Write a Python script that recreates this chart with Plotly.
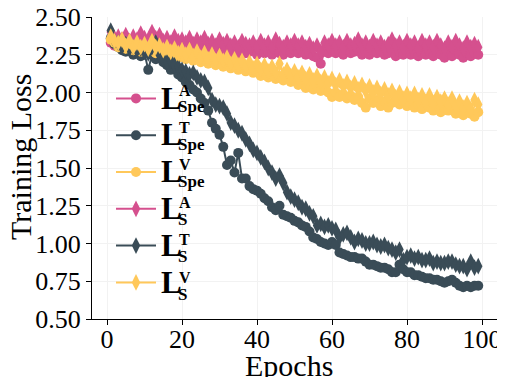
import plotly.graph_objects as go

epochs = list(range(1, 100))

spe_A = [2.33, 2.31, 2.33, 2.30, 2.32, 2.29, 2.31, 2.30, 2.33, 2.31,
         2.30, 2.34, 2.31, 2.32, 2.29, 2.30, 2.28, 2.31, 2.29, 2.30,
         2.28, 2.30, 2.27, 2.29, 2.28, 2.30, 2.27, 2.28, 2.26, 2.29,
         2.27, 2.28, 2.26, 2.28, 2.25, 2.28, 2.26, 2.27, 2.28, 2.25,
         2.28, 2.26, 2.27, 2.25, 2.28, 2.26, 2.25, 2.27, 2.26, 2.28,
         2.26, 2.27, 2.25, 2.26, 2.24, 2.23, 2.19, 2.27, 2.26, 2.28,
         2.26, 2.27, 2.25, 2.28, 2.26, 2.27, 2.28, 2.25, 2.27, 2.25,
         2.28, 2.26, 2.27, 2.25, 2.26, 2.28, 2.24, 2.27, 2.25, 2.27,
         2.25, 2.27, 2.24, 2.28, 2.25, 2.27, 2.24, 2.27, 2.25, 2.23,
         2.27, 2.24, 2.28, 2.25, 2.23, 2.26, 2.24, 2.26, 2.25]

spe_T = [2.36, 2.32, 2.30, 2.28, 2.27, 2.29, 2.25, 2.27, 2.24, 2.26,
         2.15, 2.25, 2.22, 2.24, 2.20, 2.18, 2.15, 2.16, 2.12, 2.10,
         2.07, 2.05, 2.02, 2.00, 1.96, 1.93, 1.88, 1.80, 1.76, 1.72,
         1.64, 1.52, 1.55, 1.47, 1.60, 1.43, 1.43, 1.38, 1.36, 1.35,
         1.33, 1.30, 1.28, 1.24, 1.22, 1.25, 1.19, 1.18, 1.17, 1.15,
         1.14, 1.12, 1.11, 1.08, 1.04, 1.03, 1.01, 1.00, 0.99, 1.01,
         0.99, 0.94, 0.93, 0.92, 0.91, 0.91, 0.90, 0.90, 0.88, 0.86,
         0.86, 0.85, 0.84, 0.84, 0.83, 0.81, 0.81, 0.86, 0.83, 0.81,
         0.81, 0.79, 0.79, 0.78, 0.77, 0.77, 0.76, 0.76, 0.75, 0.74,
         0.75, 0.76, 0.74, 0.72, 0.71, 0.72, 0.71, 0.72, 0.72]

spe_V = [2.35, 2.33, 2.30, 2.32, 2.29, 2.31, 2.28, 2.30, 2.27, 2.29,
         2.27, 2.30, 2.26, 2.28, 2.25, 2.27, 2.24, 2.26, 2.23, 2.25,
         2.22, 2.24, 2.21, 2.23, 2.20, 2.22, 2.19, 2.21, 2.18, 2.20,
         2.17, 2.19, 2.16, 2.18, 2.15, 2.17, 2.14, 2.16, 2.13, 2.14,
         2.11, 2.13, 2.10, 2.12, 2.09, 2.11, 2.08, 2.10, 2.07, 2.08,
         2.05, 2.07, 2.03, 2.05, 2.02, 2.04, 2.01, 2.03, 2.00, 1.97,
         2.00, 1.97, 1.99, 1.96, 1.98, 1.95, 1.97, 1.93, 1.90, 1.96,
         1.93, 1.95, 1.91, 1.94, 1.90, 1.93, 1.95, 1.92, 1.94, 1.91,
         1.93, 1.90, 1.92, 1.89, 1.93, 1.90, 1.88, 1.91, 1.87, 1.90,
         1.88, 1.91, 1.86, 1.89, 1.85, 1.88, 1.86, 1.84, 1.87]

s_A = [2.40, 2.36, 2.37, 2.35, 2.38, 2.34, 2.37, 2.35, 2.39, 2.36,
       2.35, 2.40, 2.36, 2.38, 2.34, 2.36, 2.33, 2.37, 2.34, 2.35,
       2.33, 2.36, 2.32, 2.35, 2.33, 2.36, 2.32, 2.34, 2.31, 2.35,
       2.32, 2.34, 2.31, 2.33, 2.30, 2.34, 2.32, 2.31, 2.33, 2.30,
       2.34, 2.31, 2.33, 2.30, 2.35, 2.32, 2.30, 2.33, 2.31, 2.34,
       2.31, 2.33, 2.30, 2.32, 2.29, 2.31, 2.27, 2.33, 2.31, 2.34,
       2.31, 2.33, 2.30, 2.34, 2.31, 2.32, 2.35, 2.31, 2.33, 2.30,
       2.34, 2.31, 2.33, 2.30, 2.32, 2.35, 2.31, 2.33, 2.30, 2.34,
       2.31, 2.33, 2.29, 2.34, 2.31, 2.33, 2.30, 2.34, 2.31, 2.29,
       2.33, 2.30, 2.34, 2.31, 2.29, 2.33, 2.30, 2.32, 2.30]

s_T = [2.41, 2.34, 2.33, 2.30, 2.32, 2.29, 2.30, 2.28, 2.29, 2.27,
       2.26, 2.30, 2.33, 2.25, 2.22, 2.20, 2.21, 2.18, 2.17, 2.15,
       2.14, 2.12, 2.13, 2.10, 2.08, 2.07, 2.03, 1.95, 1.92, 1.91,
       1.90, 1.86, 1.80, 1.78, 1.75, 1.73, 1.69, 1.66, 1.62, 1.60,
       1.57, 1.54, 1.50, 1.47, 1.43, 1.45, 1.40, 1.34, 1.31, 1.29,
       1.27, 1.24, 1.23, 1.20, 1.18, 1.12, 1.13, 1.11, 1.12, 1.10,
       1.09, 1.04, 1.06, 1.07, 1.04, 1.01, 1.03, 1.02, 1.00, 1.00,
       1.01, 0.99, 0.98, 0.99, 0.97, 0.96, 0.94, 0.96, 0.89, 0.91,
       0.92, 0.90, 0.91, 0.89, 0.89, 0.90, 0.87, 0.88, 0.87, 0.87,
       0.88, 0.88, 0.86, 0.85, 0.85, 0.83, 0.88, 0.84, 0.85]

s_V = [2.37, 2.34, 2.33, 2.35, 2.31, 2.34, 2.30, 2.33, 2.30, 2.32,
       2.29, 2.34, 2.30, 2.31, 2.28, 2.30, 2.27, 2.29, 2.26, 2.28,
       2.25, 2.28, 2.24, 2.27, 2.23, 2.26, 2.22, 2.25, 2.21, 2.24,
       2.21, 2.23, 2.19, 2.22, 2.18, 2.21, 2.17, 2.20, 2.16, 2.19,
       2.15, 2.18, 2.14, 2.17, 2.13, 2.19, 2.12, 2.15, 2.11, 2.14,
       2.10, 2.13, 2.09, 2.12, 2.08, 2.11, 2.07, 2.10, 2.06, 2.09,
       2.05, 2.08, 2.04, 2.07, 2.03, 2.06, 2.02, 2.05, 2.01, 2.04,
       2.00, 2.03, 1.99, 2.02, 1.98, 2.01, 1.97, 2.00, 1.96, 1.99,
       1.96, 1.99, 1.95, 1.98, 1.94, 1.98, 1.93, 1.97, 1.94, 1.96,
       1.92, 1.96, 1.91, 1.94, 1.90, 1.93, 1.89, 1.95, 1.92]

x_ticks = [0, 20, 40, 60, 80, 100]
y_ticks = [0.5, 0.75, 1.0, 1.25, 1.5, 1.75, 2.0, 2.25, 2.5]

PINK = "#D5508E"
DARK = "#3A4C57"
YELLOW = "#FFC85A"

series = [
    (spe_A, PINK, "circle", "A", "Spe"),
    (spe_T, DARK, "circle", "T", "Spe"),
    (spe_V, YELLOW, "circle", "V", "Spe"),
    (s_A, PINK, "diamond-tall", "A", "S"),
    (s_T, DARK, "diamond-tall", "T", "S"),
    (s_V, YELLOW, "diamond-tall", "V", "S"),
]

FONT = "Liberation Serif, Times New Roman, serif"

fig = go.Figure()
for vals, col, sym, sup, sub in series:
    fig.add_trace(go.Scatter(
        x=epochs, y=vals, mode="lines+markers",
        name='<span style="font-size:31px"><b>L</b></span>',
        line=dict(color=col, width=2),
        marker=dict(color=col, symbol=sym, size=10 if sym == "circle" else 12),
    ))

# the page has an 8px body margin; target coordinates are window pixels
OFF = 8
W, H = 505, 377
L, R, T, B = 92, 497, 17, 319   # plot area in window pixels


def px(x):
    return (x - L) / (R - L)


def py(y):
    return (B - y) / (B - T)


# stacked super/subscripts for the legend labels
ITEM0, STEP = 97, 37.4
annotations = []
for i, (_, _, _, sup, sub) in enumerate(series):
    cy = ITEM0 + STEP * i
    annotations.append(dict(
        text="<b>%s</b>" % sup, x=px(177), y=py(cy - 7), xref="paper", yref="paper",
        xanchor="left", yanchor="middle", showarrow=False,
        font=dict(family=FONT, size=16, color="black"),
    ))
    annotations.append(dict(
        text="<b>%s</b>" % sub, x=px(176), y=py(cy + 10), xref="paper", yref="paper",
        xanchor="left", yanchor="middle", showarrow=False,
        font=dict(family=FONT, size=17, color="black"),
    ))

annotations.append(dict(
    text="Epochs", x=px(289), y=py(347), xref="paper", yref="paper",
    xanchor="center", yanchor="top", showarrow=False,
    font=dict(family=FONT, size=30, color="black"),
))
annotations.append(dict(
    text="Training Loss", x=px(20), y=py(157), xref="paper", yref="paper",
    xanchor="center", yanchor="middle", showarrow=False, textangle=-90,
    font=dict(family=FONT, size=30, color="black"),
))

fig.update_layout(
    width=W - OFF, height=H - OFF,
    margin=dict(l=L - OFF, r=W - R, t=T - OFF, b=H - B),
    paper_bgcolor="white", plot_bgcolor="white",
    font=dict(family=FONT, size=26, color="black"),
    showlegend=True,
    legend=dict(
        x=px(111), y=py(75), xanchor="left", yanchor="top",
        bgcolor="rgba(0,0,0,0)",
        font=dict(family=FONT, size=26, color="black"),
        tracegroupgap=0, itemwidth=40,
    ),
    annotations=annotations,
)
fig.update_xaxes(
    range=[-4, 104], tickvals=x_ticks, automargin=False,
    showline=True, linecolor="black", linewidth=1,
    ticks="outside", ticklen=5, tickcolor="black",
    showgrid=True, gridcolor="#f2f2f2", zeroline=False,
    tickfont=dict(size=26), ticklabelstandoff=-8, ticklabeloverflow="allow",
)
fig.update_yaxes(
    range=[0.5, 2.5], tickvals=y_ticks, automargin=False,
    tickformat=".2f",
    showline=True, linecolor="black", linewidth=1,
    ticks="outside", ticklen=5, tickcolor="black",
    showgrid=True, gridcolor="#f2f2f2", zeroline=False,
    tickfont=dict(size=26), ticklabeloverflow="allow",
)

fig.write_html("out.html")
